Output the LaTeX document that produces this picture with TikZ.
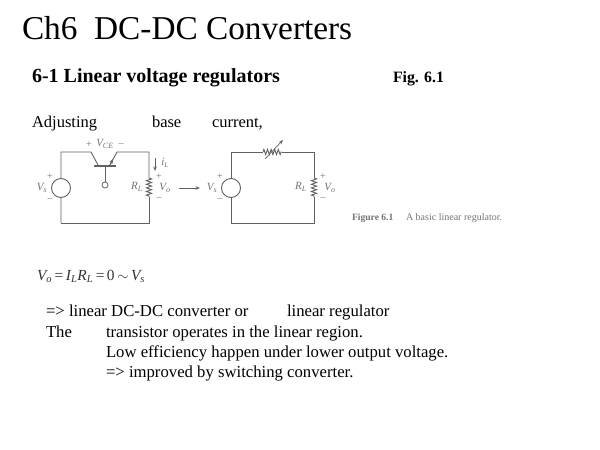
\documentclass[tikz,border=0pt]{standalone}
\usepackage{fontspec}
\setmainfont{Liberation Serif}
\usetikzlibrary{decorations.pathmorphing,arrows.meta}
\definecolor{wire}{gray}{0.38}
\definecolor{lab}{gray}{0.45}
\newcommand{\fs}[1]{\fontsize{#1}{#1}\selectfont}
\tikzset{x=1pt,y=-1pt,
 txt/.style={anchor=base west,inner sep=0pt,outer sep=0pt,text=black},
 wr/.style={draw=wire,line width=0.9pt},
 src/.style={circle,draw=wire,line width=0.9pt,minimum size=19pt,inner sep=0pt,fill=white},
 res/.style={wr,decorate,decoration={zigzag,segment length=3.6pt,amplitude=2.6pt}},
 tip/.style={-{Stealth[length=4.5pt,width=3.5pt]}},
 clab/.style={inner sep=0pt,text=lab,font=\fs{11}\itshape},
 sgn/.style={inner sep=0pt,text=lab,font=\fs{10}},
}
\begin{document}
\begin{tikzpicture}
\useasboundingbox (0,0) rectangle (600,450);
\node[txt] (title) at (22,39) {\fs{33.3}Ch6\ \ DC-DC Converters};
\node[txt] (head) at (32,82) {\fs{20}\bfseries 6-1 Linear voltage regulators};
\node[txt] (fig) at (393,82) {\fs{15.8}\bfseries Fig. 6.1};
\node[txt] (adj) at (32,127) {\fs{16.5}Adjusting};
\node[txt] (base) at (152,127) {\fs{16.5}base};
\node[txt] (curr) at (212,127) {\fs{16.5}current,};
% left circuit
\coordinate (la) at (61,152); \coordinate (lb) at (91,152);
\coordinate (lc) at (98,165); \coordinate (ld) at (110,165);
\coordinate (le) at (117,152); \coordinate (lf) at (149,152);
\coordinate (lg) at (149,178); \coordinate (lh) at (149,197);
\coordinate (li) at (149,223); \coordinate (lj) at (61,223);
\draw[wr] (lj) -- (la) -- (lb) -- (lc);
\draw[wr] (ld) -- (le) -- (lf) -- (lg);
\draw[wr] (lh) -- (li) -- (lj);
\draw[res] (lg) -- (lh);
\draw[wr,line width=1.3pt] (94,166) -- (116,166);
\draw[wr] (105,166) -- (105,182);
\node[circle,draw=wire,line width=0.8pt,minimum size=6pt,inner sep=0pt] (lbase) at (105,185) {};
\draw[wr,tip] (ld) -- (113,159);
\node[src] (lsrc) at (61,188) {};
\draw[wire,line width=0.7pt,tip] (155,158) -- (155,171);
\node[clab] at (165,163) {i\textsubscript{\fs{7}L}};
\node[clab] at (105,144) {V\textsubscript{\fs{8}CE}};
\node[sgn] at (89,145) {+};
\node[sgn] at (121,145) {–};
\node[sgn] at (50,177) {+};
\node[sgn] at (50,200) {–};
\node[clab] (lvs) at (42,188) {V\textsubscript{\fs{8}s}};
\node[clab] (lrl) at (137,187) {R\textsubscript{\fs{8}L}};
\node[clab] (lvo) at (165,188) {V\textsubscript{\fs{8}o}};
\node[sgn] at (159,177) {+};
\node[sgn] at (159,199) {–};
% arrow between
\coordinate (ma) at (179,188); \coordinate (mb) at (200,188);
\draw[wire,line width=0.7pt,tip] (ma) -- (mb);
% right circuit
\coordinate (ra) at (231,152); \coordinate (rb) at (263,152);
\coordinate (rc) at (282,152); \coordinate (rd) at (314,152);
\coordinate (re) at (314,178); \coordinate (rf) at (314,197);
\coordinate (rg) at (314,223); \coordinate (rh) at (231,223);
\draw[wr] (rh) -- (ra) -- (rb);
\draw[wr] (rc) -- (rd) -- (re);
\draw[wr] (rf) -- (rg) -- (rh);
\draw[res] (rb) -- (rc);
\draw[res] (re) -- (rf);
\draw[wire,line width=0.7pt,tip] (265,159) -- (283,140);
\node[src] (rsrc) at (231,188) {};
\node[sgn] at (220,177) {+};
\node[sgn] at (220,200) {–};
\node[clab] (rvs) at (212,188) {V\textsubscript{\fs{8}s}};
\node[clab] (rrl) at (301,187) {R\textsubscript{\fs{8}L}};
\node[clab] (rvo) at (330,188) {V\textsubscript{\fs{8}o}};
\node[sgn] at (323,177) {+};
\node[sgn] at (323,199) {–};
% caption
\node[txt,text=lab] (figcap) at (352,220) {\fs{9.6}\bfseries Figure 6.1};
\node[txt,text=lab] (figtxt) at (406,220) {\fs{10}A basic linear regulator.};
% formula
\node[txt,text=black!80] (form) at (37,280) {\fs{15.4}\itshape V\textsubscript{\fs{10.5}o}\,\upshape =\,\itshape I\textsubscript{\fs{10.5}L}R\textsubscript{\fs{10.5}L}\,\upshape =\,0\,$\sim$\,\itshape V\textsubscript{\fs{10.5}s}};
% body
\node[txt] (l1) at (46,316) {\fs{16.7}=> linear DC-DC converter or};
\node[txt] (l1b) at (287,316) {\fs{16.7}linear regulator};
\node[txt] (l2a) at (46,337) {\fs{16.7}The};
\node[txt] (l2b) at (106,337) {\fs{16.7}transistor operates in the linear region.};
\node[txt] (l3) at (106,357) {\fs{16.7}Low efficiency happen under lower output voltage.};
\node[txt] (l4) at (106,377) {\fs{16.7}=> improved by switching converter.};
\end{tikzpicture}
\end{document}
